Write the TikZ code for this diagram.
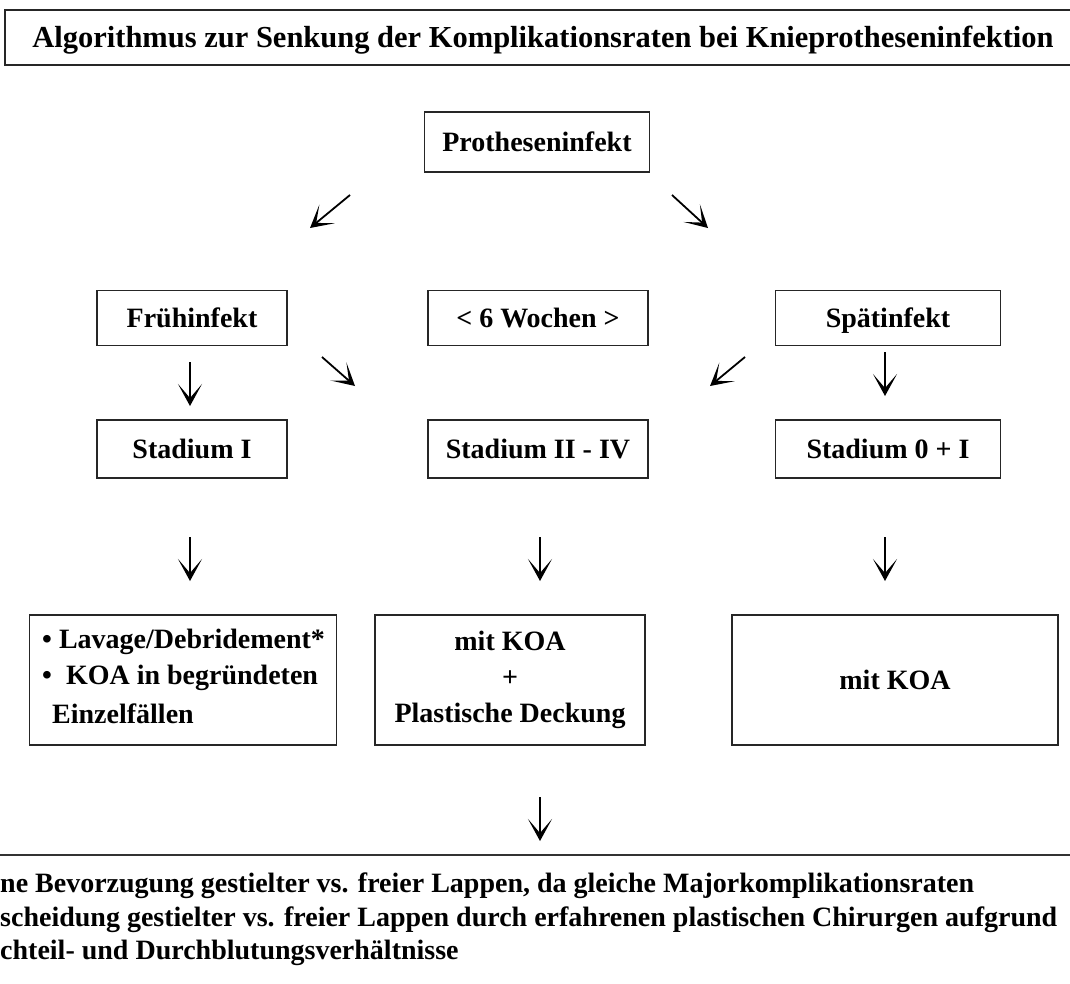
\documentclass[tikz,border=0pt]{standalone}
\usepackage{fontspec}
\setmainfont{Liberation Serif}
\usetikzlibrary{arrows.meta}
\begin{document}
\begin{tikzpicture}[x=1pt,y=-1pt,
  box/.style={draw=black!85,line width=1.2pt,inner sep=0pt,align=center,
    text height=19pt,text depth=0pt,
    font=\fontsize{28}{36}\selectfont\bfseries},
  arr/.style={line width=1.8pt,-{Stealth[length=22pt,width=24pt,inset=14pt]}},
  txt/.style={inner sep=0pt,anchor=west,font=\fontsize{28}{34}\selectfont\bfseries}]
\useasboundingbox (0,0) rectangle (1070,983);
\clip (0,0) rectangle (1070,983);
\fill[white] (0,0) rectangle (1070,983);

% title
\draw[draw=black!85,line width=1.2pt] (5,10) rectangle (1090,65);
\node[txt,anchor=center,font=\fontsize{30.5}{36}\selectfont\bfseries] (title) at (543,40)
  {Algorithmus zur Senkung der Komplikationsraten bei Knieprotheseninfektion};

% first level
\node[box,minimum width=225pt,minimum height=60pt] (pi) at (537,142) {Protheseninfekt};
\coordinate (a1s) at (350,195); \coordinate (a1e) at (310,228);
\coordinate (a2s) at (672,195); \coordinate (a2e) at (708,228);
\draw[arr] (a1s) -- (a1e);
\draw[arr] (a2s) -- (a2e);

% second level
\node[box,minimum width=190pt,minimum height=55pt] (fi) at (192,318) {Frühinfekt};
\node[box,minimum width=220pt,minimum height=55pt] (wo) at (538,318) {< 6 Wochen >};
\node[box,minimum width=225pt,minimum height=55pt] (si) at (888,318) {Spätinfekt};

\coordinate (b1s) at (190,362); \coordinate (b1e) at (190,406);
\coordinate (b2s) at (322,357); \coordinate (b2e) at (355,386);
\coordinate (b3s) at (745,357); \coordinate (b3e) at (710,386);
\coordinate (b4s) at (885,352); \coordinate (b4e) at (885,396);
\foreach \s/\e in {b1s/b1e,b2s/b2e,b3s/b3e,b4s/b4e} \draw[arr] (\s) -- (\e);

% third level
\node[box,minimum width=190pt,minimum height=58pt] (s1) at (192,449) {Stadium I};
\node[box,minimum width=220pt,minimum height=58pt] (s2) at (538,449) {Stadium II - IV};
\node[box,minimum width=225pt,minimum height=58pt] (s3) at (888,449) {Stadium 0 + I};

\coordinate (c1s) at (190,537); \coordinate (c1e) at (190,581);
\coordinate (c2s) at (540,537); \coordinate (c2e) at (540,581);
\coordinate (c3s) at (885,537); \coordinate (c3e) at (885,581);
\foreach \s/\e in {c1s/c1e,c2s/c2e,c3s/c3e} \draw[arr] (\s) -- (\e);

% treatment boxes
\node[box,minimum width=307pt,minimum height=130pt] (t1) at (183,680) {};
\node[txt] (t1a) at (42,642) {• Lavage/Debridement*};
\node[txt] (t1b) at (42,678) {•\ \ KOA in begründeten};
\node[txt] (t1c) at (52,714) {Einzelfällen};
\node[box,minimum width=270pt,minimum height=130pt,text height=,text depth=] (t2) at (510,680)
  {mit KOA\\+\\Plastische Deckung};
\node[box,minimum width=326pt,minimum height=130pt] (t3) at (895,680) {mit KOA};

\coordinate (d1s) at (540,797); \coordinate (d1e) at (540,841);
\draw[arr] (d1s) -- (d1e);

% notes
\draw[draw=black!80,line width=1.6pt] (-5,855) -- (1080,855);
\node[txt] (n1) at (0,886) {ne Bevorzugung gestielter vs. freier Lappen, da gleiche Majorkomplikationsraten};
\node[txt] (n2) at (0,920) {scheidung gestielter vs. freier Lappen durch erfahrenen plastischen Chirurgen aufgrund};
\node[txt] (n3) at (0,953) {chteil- und Durchblutungsverhältnisse};
\end{tikzpicture}
\end{document}
